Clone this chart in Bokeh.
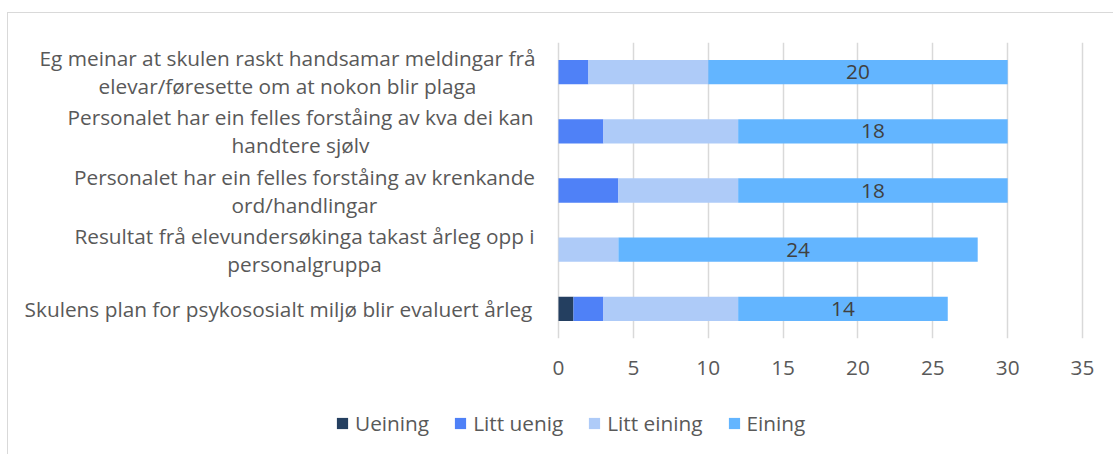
from bokeh.plotting import figure
from bokeh.layouts import column
from bokeh.models import (Range1d, ColumnDataSource, Legend, LegendItem,
                          LabelSet, FixedTicker)
from bokeh.embed import file_html
from bokeh.resources import INLINE
from bokeh.core.properties import value

categories = [
    "Eg meinar at skulen raskt handsamar meldingar frå\nelevar/føresette om at nokon blir plaga",
    "Personalet har ein felles forståing av kva dei kan\nhandtere sjølv",
    "Personalet har ein felles forståing av krenkande\nord/handlingar",
    "Resultat frå elevundersøkinga takast årleg opp i\npersonalgruppa",
    "Skulens plan for psykososialt miljø blir evaluert årleg",
]
series_names = ["Ueining", "Litt uenig", "Litt eining", "Eining"]
ueining = [0, 0, 0, 0, 1]
litt_uenig = [2, 3, 4, 0, 2]
litt_eining = [8, 9, 8, 4, 9]
eining = [20, 18, 18, 24, 14]
x_ticks = [0, 5, 10, 15, 20, 25, 30, 35]

# ---- layout (pixels) ----
W = 1105
H_MAIN, H_LEG = 380, 61
ZERO_PX = 550            # canvas px of x = 0
UNIT_PX = 524 / 35       # px per unit on the value axis
label_centres_px = [-271, -258, -254, -254, -280]   # label block centres, px from x = 0

colors = ["#243F60", "#4F81F7", "#AECBF8", "#63B5FF"]
FONT = "Open Sans"
FS = "20.8px"
TXT = "#595959"

n = len(categories)
ypos = [n - i - 0.5 for i in range(n)]  # first category at top
cols = ["s0", "s1", "s2", "s3"]
data = dict(y=ypos, s0=ueining, s1=litt_uenig, s2=litt_eining, s3=eining)
start = [a + b + c for a, b, c in zip(ueining, litt_uenig, litt_eining)]
data["lx"] = [s + e / 2 for s, e in zip(start, eining)]
data["lt"] = [str(e) for e in eining]
source = ColumnDataSource(data)

cat_src = ColumnDataSource(dict(x=[c / UNIT_PX for c in label_centres_px], y=ypos, t=categories))

p = figure(width=W, height=H_MAIN,
           y_range=Range1d(0, n),
           x_range=Range1d(-ZERO_PX / UNIT_PX, (W - ZERO_PX) / UNIT_PX),
           output_backend="svg", toolbar_location=None,
           min_border_left=0, min_border_right=0,
           min_border_top=29, min_border_bottom=55)
p.outline_line_color = None

p.hbar_stack(cols, y="y", height=0.41, color=colors, line_color=None, source=source)

labels = LabelSet(x="lx", y="y", text="lt", source=source, text_align="center",
                  text_baseline="middle", text_font=value(FONT), text_font_size=FS,
                  text_color="#404040")
p.add_layout(labels)

p.text(x="x", y="y", text="t", source=cat_src, text_align="center", text_baseline="middle",
       text_font=value(FONT), text_font_size=FS, text_color=TXT, text_line_height=1.0)

p.xaxis.ticker = FixedTicker(ticks=x_ticks)
p.xaxis.axis_line_color = None
p.xaxis.major_tick_line_color = None
p.xaxis.minor_tick_line_color = None
p.xaxis.major_label_text_font = FONT
p.xaxis.major_label_text_font_size = FS
p.xaxis.major_label_text_color = TXT
p.xaxis.major_label_standoff = 16

p.yaxis.visible = False

p.xgrid.grid_line_color = "#d9d9d9"
p.xgrid.grid_line_width = 1.5
p.ygrid.grid_line_color = None

# legend strip below the chart: same stacked series, drawn outside its visible range
pl = figure(width=W, height=H_LEG, x_range=Range1d(0, 1), y_range=Range1d(100, 101),
            output_backend="svg", toolbar_location=None,
            x_axis_location=None, y_axis_location=None,
            min_border_left=0, min_border_right=0, min_border_top=0, min_border_bottom=0)
pl.outline_line_color = None
pl.grid.grid_line_color = None
leg_rs = pl.hbar_stack(cols, y="y", height=0.41, color=colors, line_color=None, source=source)

legend = Legend(items=[LegendItem(label=nm, renderers=[r]) for nm, r in zip(series_names, leg_rs)],
                location=(327, 17), orientation="horizontal", padding=0, margin=0,
                spacing=24, label_standoff=6, glyph_width=14, glyph_height=14,
                label_text_font=FONT, label_text_font_size=FS, label_text_color=TXT,
                border_line_color=None, background_fill_alpha=0)
pl.add_layout(legend, "center")

layout = column(p, pl, spacing=0)
layout.styles = {"margin-top": "12px", "margin-left": "7px",
                 "border-top": "1px solid #d9d9d9", "border-left": "1px solid #d9d9d9"}

open("out.html", "w").write(file_html(layout, INLINE))
